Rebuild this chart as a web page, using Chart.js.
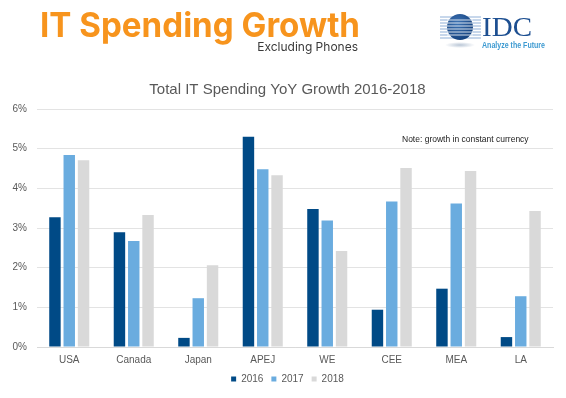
<!DOCTYPE html>
<html>
<head>
<meta charset="utf-8">
<script src="https://cdn.jsdelivr.net/npm/chart.js@4.4.1/dist/chart.umd.min.js"></script>
<style>
  body { margin: 0; background: #fff; }
  #wrap { position: relative; width: 566px; height: 398px; overflow: hidden; }
  #barChart { position: absolute; left: 0; top: 0; }
  #head { position: absolute; left: 40px; top: 5px; font-family: Inter, sans-serif; font-weight: 700;
          font-size: 34px; line-height: 40px; color: #F7941D; white-space: nowrap; transform-origin: 0 0; }
  #sub { position: absolute; right: 208px; top: 39px; font-family: Inter, sans-serif; font-size: 12px;
         line-height: 16px; color: #3a3a3a; white-space: nowrap; }
  #note { position: absolute; left: 402px; top: 133px; font-family: 'Liberation Sans', Arial, sans-serif;
          font-size: 8.5px; line-height: 12px; color: #222; white-space: nowrap; }
  #logo { position: absolute; left: 0; top: 0; }
</style>
</head>
<body>
<div id="wrap">
  <canvas id="barChart" width="566" height="398"></canvas>
  <div id="head">IT Spending Growth</div>
  <div id="sub">Excluding Phones</div>
  <div id="note">Note: growth in constant currency</div>
  <svg id="logo" width="566" height="60" viewBox="0 0 566 60">
    <defs>
      <radialGradient id="globe" cx="0.4" cy="0.35" r="0.7">
        <stop offset="0" stop-color="#3f74b4"/>
        <stop offset="1" stop-color="#123f7c"/>
      </radialGradient>
      <radialGradient id="shadow" cx="0.5" cy="0.5" r="0.5">
        <stop offset="0" stop-color="#b9c6d6"/>
        <stop offset="1" stop-color="#ffffff"/>
      </radialGradient>
    </defs>
    <ellipse cx="460" cy="45" rx="15" ry="3" fill="url(#shadow)"/>
    <g stroke="#8fb0d8" stroke-width="1.2">
      <line x1="440" y1="17" x2="481" y2="17"/>
      <line x1="440" y1="20" x2="481" y2="20"/>
      <line x1="440" y1="23" x2="481" y2="23"/>
      <line x1="440" y1="26" x2="481" y2="26"/>
      <line x1="440" y1="29" x2="481" y2="29"/>
      <line x1="440" y1="32" x2="481" y2="32"/>
      <line x1="440" y1="35" x2="481" y2="35"/>
      <line x1="440" y1="38" x2="481" y2="38"/>
    </g>
    <circle cx="460" cy="27" r="13" fill="url(#globe)"/>
    <g stroke="#ffffff" stroke-width="0.9" opacity="0.9">
      <line x1="447" y1="20" x2="473" y2="20"/>
      <line x1="447" y1="23" x2="473" y2="23"/>
      <line x1="447" y1="26" x2="473" y2="26"/>
      <line x1="447" y1="29" x2="473" y2="29"/>
      <line x1="447" y1="32" x2="473" y2="32"/>
      <line x1="447" y1="35" x2="473" y2="35"/>
    </g>
    <text x="482" y="36" font-family="'Liberation Serif', serif" font-size="27" fill="#1d4f91"
          textLength="50" lengthAdjust="spacingAndGlyphs">IDC</text>
    <text x="482" y="47.5" font-family="'Liberation Sans Narrow', 'Liberation Sans', sans-serif" font-size="9"
          font-weight="700" fill="#3d9ad1" textLength="63" lengthAdjust="spacingAndGlyphs">Analyze the Future</text>
  </svg>
</div>
<script>
Chart.defaults.font.family = "'Liberation Sans', Arial, sans-serif";
Chart.defaults.font.size = 10;
Chart.defaults.color = '#595959';

// fit header to its width in the picture
const head = document.getElementById('head');
head.style.transform = 'scaleX(' + (320 / head.getBoundingClientRect().width) + ')';

// regions and YoY growth (%)
const regions = ['USA', 'Canada', 'Japan', 'APEJ', 'WE', 'CEE', 'MEA', 'LA'];
const growth2016 = [3.27, 2.89, 0.23, 5.30, 3.48, 0.94, 1.47, 0.25];
const growth2017 = [4.84, 2.67, 1.23, 4.48, 3.19, 3.67, 3.62, 1.28];
const growth2018 = [4.71, 3.33, 2.06, 4.33, 2.42, 4.51, 4.44, 3.43];
const yearLabels = ['2016', '2017', '2018'];
const yMin = 0, yMax = 6, yStep = 1;

const chart_ctx = document.getElementById('barChart');
var barChart = new Chart(chart_ctx, {
  type: 'bar',
  data: {
    labels: regions,
    datasets: [
      { label: yearLabels[0], data: growth2016, backgroundColor: '#004a86' },
      { label: yearLabels[1], data: growth2017, backgroundColor: '#6aacdf' },
      { label: yearLabels[2], data: growth2018, backgroundColor: '#d9d9d9' }
    ]
  },
  options: {
    responsive: false,
    animation: false,
    categoryPercentage: 0.665,
    barPercentage: 0.8,
    layout: {
      padding: { top: 72, left: 9, right: 0, bottom: 4 }
    },
    plugins: {
      title: {
        display: true,
        text: 'Total IT Spending YoY Growth 2016-2018',
        color: '#595959',
        font: { size: 15, weight: 'normal' },
        padding: { top: 9, bottom: 10 }
      },
      legend: {
        position: 'bottom',
        labels: { boxWidth: 5, boxHeight: 5, padding: 8, color: '#595959', font: { size: 10 } }
      },
      tooltip: { enabled: false }
    },
    scales: {
      x: {
        grid: { display: false, drawTicks: false },
        border: { display: true, color: '#d9d9d9' },
        ticks: { padding: 7 },
        afterFit: (s) => { s.height = 19; }
      },
      y: {
        min: yMin,
        max: yMax,
        grid: { color: '#e3e3e3', drawTicks: false },
        border: { display: false },
        ticks: { stepSize: yStep, padding: 10, callback: (v) => v + '%' },
        afterFit: (s) => { s.width = 28; }
      },
      // empty right margin so the plot ends where the picture's does
      yRight: {
        position: 'right',
        grid: { display: false },
        border: { display: false },
        ticks: { display: false },
        afterFit: (s) => { s.width = 13; }
      }
    }
  }
});
</script>
</body>
</html>
